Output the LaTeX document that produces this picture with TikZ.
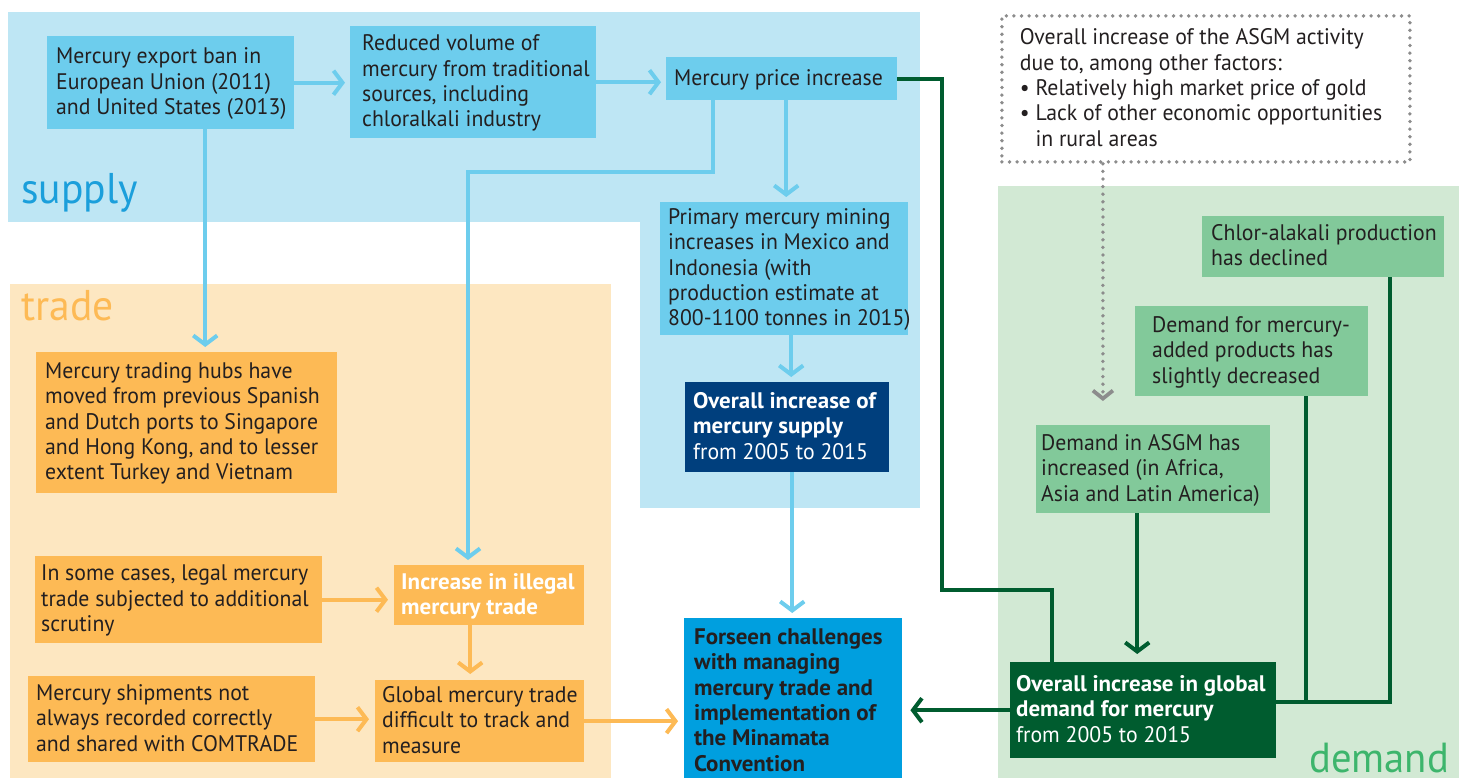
\documentclass[tikz,border=0pt]{standalone}
\usepackage{fontspec}
\setmainfont{PT Sans}[FakeStretch=0.967, BoldFeatures={FakeStretch=1.02}]
\usetikzlibrary{arrows.meta}

\definecolor{ink}{HTML}{231F20}
\definecolor{supplybg}{HTML}{BEE6F4}
\definecolor{bluebox}{HTML}{6DCDED}
\definecolor{supplylbl}{HTML}{1B9FDB}
\definecolor{navy}{HTML}{003F7D}
\definecolor{centerblue}{HTML}{009FDF}
\definecolor{tradebg}{HTML}{FDE7C1}
\definecolor{orangebox}{HTML}{FDBA55}
\definecolor{demandbg}{HTML}{D2E9D4}
\definecolor{greenbox}{HTML}{82C99A}
\definecolor{darkgreen}{HTML}{005C2F}
\definecolor{demandlbl}{HTML}{3DB56C}
\definecolor{dotgray}{HTML}{8C8C8C}

% left-aligned block of lines in a box of fixed width
\newcommand\textlines[2]{\makebox[#1][l]{\raisebox{-1.5pt}[\height][\depth]{\begin{tabular}{@{}l@{}}#2\end{tabular}}}}

\begin{document}
\begin{tikzpicture}[x=1pt,y=-1pt,
  box/.style={anchor=north west, inner xsep=9pt, inner ysep=3pt,
    font=\fontsize{22.5}{25.3}\selectfont, text=ink},
  bluenode/.style={box, fill=bluebox},
  orangenode/.style={box, fill=orangebox},
  greennode/.style={box, fill=greenbox},
  tip/.style={-{Straight Barb[length=9pt,width=24pt]}},
  bluearrow/.style={tip, draw=bluebox, line width=4pt, shorten >=5pt},
  orangearrow/.style={tip, draw=orangebox, line width=4pt, shorten >=6pt},
  greenarrow/.style={tip, draw=darkgreen, line width=4pt, shorten >=8pt},
  greenlink/.style={draw=darkgreen, line width=4pt},
  dotted line/.style={draw=dotgray, line width=3.8pt, dash pattern=on 0pt off 7.6pt, line cap=round},
  grouplabel/.style={anchor=base west, inner sep=0pt, font=\fontsize{43}{43}\selectfont},
]
\useasboundingbox (0,0) rectangle (1459,778);

% group backgrounds
\fill[supplybg] (8,12) rectangle (920,222);
\fill[supplybg] (640,222) rectangle (920,508);
\fill[tradebg] (10,284) rectangle (611,778);
\fill[demandbg] (998,186) rectangle (1459,778);

% group labels
\node[grouplabel, text=supplylbl] (lsupply) at (21,204) {supply};
\node[grouplabel, text=orangebox] (ltrade) at (21,320) {trade};
\node[grouplabel, text=demandlbl, font=\fontsize{42}{42}\selectfont] (ldemand) at (1309,772) {demand};

% supply
\node[bluenode, minimum width=247pt, minimum height=93pt] (n1) at (47,36)
  {\textlines{229pt}{Mercury export ban in\\European Union (2011)\\and United States (2013)}};
\node[bluenode, minimum width=246pt, minimum height=112pt, inner xsep=12pt] (n2) at (350,26)
  {\textlines{222pt}{Reduced volume of\\mercury from traditional\\sources, including\\chloralkali industry}};
\node[bluenode, minimum width=231pt, minimum height=43pt, inner xsep=8pt] (n3) at (666,57)
  {\textlines{215pt}{Mercury price increase}};
\node[bluenode, minimum width=248pt, minimum height=132pt, inner xsep=8pt] (n4) at (660,202)
  {\textlines{232pt}{Primary mercury mining\\increases in Mexico and\\Indonesia (with\\production estimate at\\800-1100 tonnes in 2015)}};
\node[box, fill=navy, text=white, minimum width=204pt, minimum height=90pt, inner xsep=8pt] (n5) at (685,382)
  {\textlines{188pt}{\textbf{Overall increase of}\\\textbf{mercury supply}\\from 2005 to 2015}};

% trade
\node[orangenode, minimum width=301pt, minimum height=141pt] (n6) at (36,352)
  {\textlines{283pt}{Mercury trading hubs have\\moved from previous Spanish\\and Dutch ports to Singapore\\and Hong Kong, and to lesser\\extent Turkey and Vietnam}};
\node[orangenode, minimum width=287pt, minimum height=87pt, inner xsep=6pt] (n7) at (35,556)
  {\textlines{275pt}{In some cases, legal mercury\\trade subjected to additional\\scrutiny}};
\node[orangenode, text=white, minimum width=190pt, minimum height=60pt, inner xsep=7pt] (n8) at (394,565)
  {\textlines{176pt}{\textbf{Increase in illegal}\\\textbf{mercury trade}}};
\node[orangenode, minimum width=287pt, minimum height=86pt, inner xsep=8pt] (n9) at (28,676)
  {\textlines{271pt}{Mercury shipments not\\always recorded correctly\\and shared with COMTRADE}};
\node[orangenode, minimum width=209pt, minimum height=80pt, inner xsep=7pt] (n10) at (375,680)
  {\textlines{195pt}{Global mercury trade\\difficult to track and\\measure}};

% outcome
\node[box, fill=centerblue, minimum width=218pt, minimum height=166pt, inner xsep=10pt] (n11) at (684,618)
  {\textlines{198pt}{\textbf{Forseen challenges}\\\textbf{with managing}\\\textbf{mercury trade and}\\\textbf{implementation of}\\\textbf{the Minamata}\\\textbf{Convention}}};

% demand
\node[box, dotted line, minimum width=408pt, minimum height=146pt, inner xsep=18pt] (asgm) at (1000,14)
  {\textlines{372pt}{Overall increase of the ASGM activity\\due to, among other factors:\\\textbullet~Relatively high market price of gold\\\textbullet~Lack of other economic opportunities\\\hphantom{\textbullet~}in rural areas}};
\node[greennode, minimum width=242pt, minimum height=61pt, inner xsep=9pt] (n12) at (1202,216)
  {\textlines{224pt}{Chlor-alakali production\\has declined}};
\node[greennode, minimum width=233pt, minimum height=90pt, inner xsep=17pt] (n13) at (1135,306)
  {\textlines{199pt}{Demand for mercury-\\added products has\\slightly decreased}};
\node[greennode, minimum width=234pt, minimum height=88pt, inner xsep=5pt] (n14) at (1036,425)
  {\textlines{224pt}{Demand in ASGM has\\increased (in Africa,\\Asia and Latin America)}};
\node[box, fill=darkgreen, text=white, minimum width=266pt, minimum height=96pt, inner xsep=6pt] (n15) at (1010,662)
  {\textlines{254pt}{\textbf{Overall increase in global}\\\textbf{demand for mercury}\\from 2005 to 2015}};

% supply connectors
\draw[bluearrow] (n1.east) -- (n1.east -| n2.west);
\draw[bluearrow] (n2.east) -- (n2.east -| n3.west);
\draw[bluearrow] ([xshift=34.5pt]n1.south) -- ([xshift=34.5pt]n1.south |- n6.north);
\coordinate (k1) at (468,172);
\draw[bluearrow] ([xshift=-68.5pt]n3.south) |- (k1) -- (k1 |- n8.north);
\draw[bluearrow] ([xshift=4.5pt]n3.south) -- ([xshift=4.5pt]n3.south |- n4.north);
\draw[bluearrow] ([xshift=7pt]n4.south) -- ([xshift=7pt]n4.south |- n5.north);
\draw[bluearrow] ([xshift=5pt]n5.south) -- ([xshift=5pt]n5.south |- n11.north);

% trade connectors
\draw[orangearrow] (n7.east) -- (n7.east -| n8.west);
\draw[orangearrow] ([xshift=-19pt]n8.south) -- ([xshift=-19pt]n8.south |- n10.north);
\draw[orangearrow] (n9.east) -- (n9.east -| n10.west);
\draw[orangearrow] (n10.east) -- (n10.east -| n11.west);

% demand connectors
\coordinate (g1) at (942,590);
\draw[greenlink] (n3.east) -| (g1) -| ([xshift=-91pt]n15.north);
\draw[greenarrow] ([xshift=-16pt]n14.south) -- ([xshift=-16pt]n14.south |- n15.north);
\coordinate (g2) at (1390,702);
\draw[greenlink] (n15.east |- g2) -- (g2) -- (g2 |- n12.south);
\draw[greenlink] ([xshift=54.5pt]n13.south) -- ([xshift=54.5pt]n13.south |- g2);
\draw[greenarrow] (n15.west) -- (n15.west -| n11.east);
\draw[dotted line, -{Straight Barb[length=8pt,width=20pt]}, shorten >=24pt]
  ([xshift=-103pt]asgm.south) -- ([xshift=-103pt]asgm.south |- n14.north);
\end{tikzpicture}
\end{document}
